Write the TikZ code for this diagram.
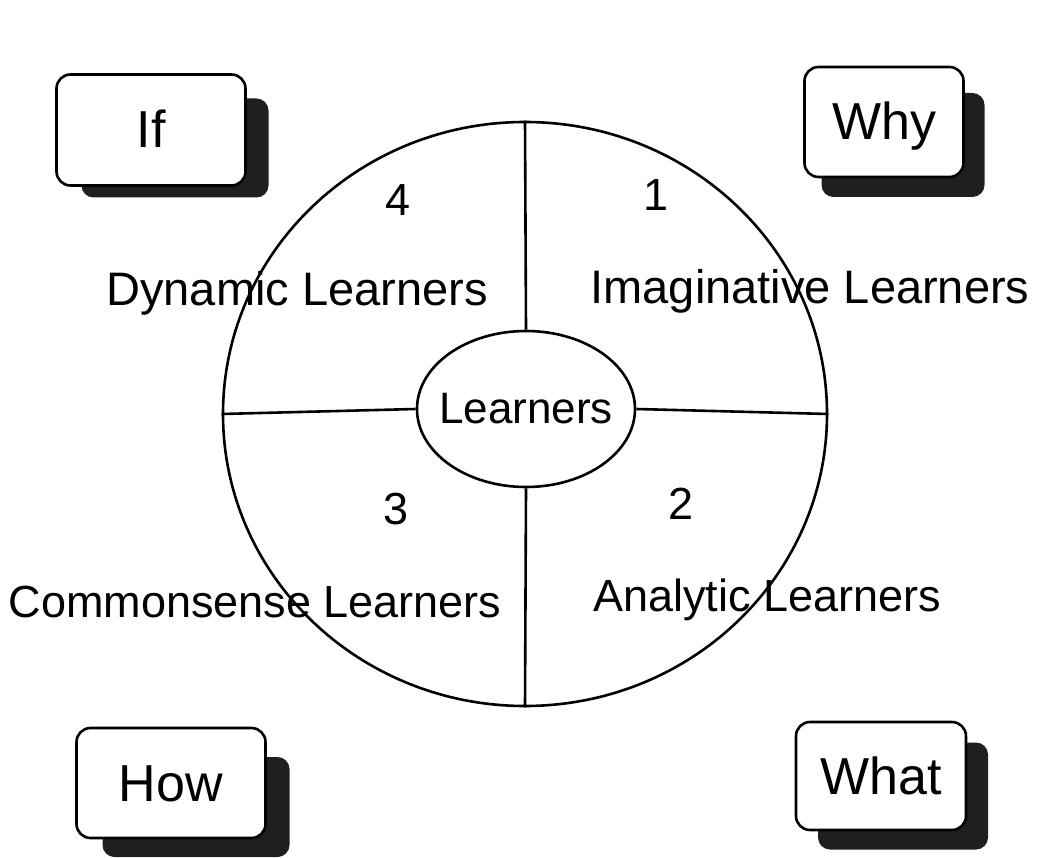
\documentclass[tikz,border=0pt]{standalone}
\usepackage{fontspec}
\setmainfont{Liberation Sans}
\usetikzlibrary{shapes.geometric,positioning}
\begin{document}
\begin{tikzpicture}[x=1pt,y=-1pt,line width=2.6pt]
\tikzstyle{qbox}=[draw,fill=white,rounded corners=14pt,inner sep=0pt,text height=36pt,text depth=0pt,
  font=\fontsize{52}{56}\selectfont]
\tikzstyle{shade}=[fill=black!88,rounded corners=12pt,inner sep=0pt]
\tikzstyle{lbl}=[anchor=base,inner sep=0pt,font=\fontsize{45}{50}\selectfont]
\useasboundingbox (0,0) rectangle (1060,858);

% shadows behind the question boxes
\node (ifsh) [shade,minimum width=187pt,minimum height=99pt] at (175,148) {};
\node (whysh) [shade,minimum width=163pt,minimum height=104pt] at (903,145) {};
\node (howsh) [shade,minimum width=187pt,minimum height=100pt] at (196,807) {};
\node (whatsh) [shade,minimum width=170pt,minimum height=107pt] at (903,796) {};

\node (if) [qbox,minimum width=189pt,minimum height=111pt] at (151,130) {If};
\node (why) [qbox,minimum width=159pt,minimum height=110pt] at (884,122) {Why};
\node (how) [qbox,minimum width=189pt,minimum height=110pt] at (171,783) {How};
\node (what) [qbox,minimum width=170pt,minimum height=108pt] at (881,776) {What};

% the wheel
\node (ring) [ellipse,draw,minimum width=604pt,minimum height=584pt,inner sep=0pt] at (525,414) {};
\node (core) [ellipse,draw,minimum width=218pt,minimum height=156pt,inner sep=0pt] at (526,409) {};
\node (corelbl) [inner sep=0pt,font=\fontsize{44}{48}\selectfont] at (core) {Learners};
\draw (ring.north) -- (core.north);
\draw (core.south) -- (ring.south);
\draw (ring.west) -- (core.west);
\draw (core.east) -- (ring.east);

% quadrants
\node (n4) [lbl] at (398,216) {4};
\node (n1) [lbl] at (656,211) {1};
\node (n3) [lbl] at (396,524) {3};
\node (n2) [lbl] at (681,519) {2};
\node (dyn) [lbl,font=\fontsize{47}{50}\selectfont] at (297,306) {Dynamic Learners};
\node (ima) [lbl,font=\fontsize{47}{50}\selectfont] at (810,304) {Imaginative Learners};
\node (com) [lbl] at (255,617) {Commonsense Learners};
\node (ana) [lbl] at (767,611) {Analytic Learners};
\end{tikzpicture}
\end{document}
